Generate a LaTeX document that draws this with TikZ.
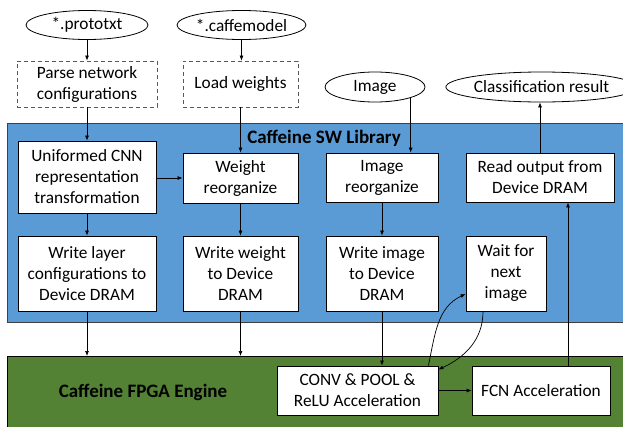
\documentclass[tikz,border=0pt]{standalone}
\usepackage{fontspec}
\setmainfont{Carlito}
\usetikzlibrary{arrows.meta,shapes.geometric}
\definecolor{swblue}{HTML}{5B9BD5}
\definecolor{fpgagreen}{HTML}{548235}
\begin{document}
\begin{tikzpicture}[x=1pt,y=-1pt,
  txt/.style={font=\fontsize{17.3}{21}\selectfont},
  box/.style={txt, draw=black, line width=0.8pt, fill=white, align=center, inner sep=0pt},
  dbox/.style={box, draw=black!65, dash pattern=on 4pt off 3pt},
  oval/.style={txt, ellipse, draw=black, line width=0.8pt, fill=white, inner sep=0pt},
  band/.style={inner sep=0pt, line width=0.8pt, anchor=north west},
  arr/.style={-{Latex[length=5pt,width=4pt]}, line width=0.7pt},
  lbl/.style={font=\bfseries\fontsize{19}{23}\selectfont}
]
\useasboundingbox (0,0) rectangle (623,426);
\begin{scope}
\clip (0,0) rectangle (623,426);
\node[band, draw=black!75, fill=swblue, minimum width=640pt, minimum height=199pt] (sw) at (7,123) {};
\node[band, draw=black, fill=fpgagreen, minimum width=640pt, minimum height=90pt] (fpga) at (7,356) {};
\end{scope}
\node[lbl] (swlbl) at (324,138) {Caffeine SW Library};
\node[lbl] (fpgalbl) at (143,392) {Caffeine FPGA Engine};

% ellipses
\node[oval, minimum width=122pt, minimum height=29pt] (proto) at (87,25) {*.prototxt};
\node[oval, minimum width=117pt, minimum height=29pt] (caffe) at (241.5,25) {*.caffemodel};
\node[oval, minimum width=100pt, minimum height=30pt] (img) at (375,87) {Image};
\node[oval, minimum width=151pt, minimum height=30pt] (cls) at (541.5,87) {Classification result};

% dashed boxes
\node[dbox, minimum width=140pt, minimum height=46pt] (parse) at (87,84) {Parse network\\configurations};
\node[dbox, minimum width=115pt, minimum height=46pt] (load) at (240.5,84) {Load weights};

% SW boxes
\node[box, minimum width=138pt, minimum height=72pt] (uni) at (87,177) {Uniformed CNN\\representation\\transformation};
\node[box, minimum width=115pt, minimum height=50pt] (wr) at (240.5,178) {Weight\\reorganize};
\node[box, minimum width=112pt, minimum height=49pt] (ir) at (382,177.5) {Image\\reorganize};
\node[box, minimum width=148pt, minimum height=49pt] (read) at (540,177.5) {Read output from\\Device DRAM};
\node[box, minimum width=138pt, minimum height=75pt] (wl) at (87,273.5) {Write layer\\configurations to\\Device DRAM};
\node[box, minimum width=115pt, minimum height=75pt] (ww) at (240.5,273.5) {Write weight\\to Device\\DRAM};
\node[box, minimum width=112pt, minimum height=75pt] (wi) at (382,273.5) {Write image\\to Device\\DRAM};
\node[box, minimum width=80pt, minimum height=75pt] (wait) at (506,273.5) {Wait for\\next\\image};

% FPGA boxes
\node[box, minimum width=161pt, minimum height=49pt] (conv) at (357.5,390.5) {CONV \& POOL \&\\ReLU Acceleration};
\node[box, minimum width=138pt, minimum height=49pt] (fcn) at (541,390.5) {FCN Acceleration};

% arrows
\draw[arr] (proto) -- (parse);
\draw[arr] (parse) -- (uni);
\draw[arr] (caffe.south) -- (caffe.south |- load.north);
\draw[arr] (load) -- (wr);
\draw[arr] (uni.east |- wr) -- (wr.west);
\draw[arr] (img.-17) -- (img.-17 |- ir.north);
\draw[arr] (read.north) -- (read.north |- cls.south);
\draw[arr] (uni) -- (wl);
\draw[arr] (wr) -- (ww);
\draw[arr] (ir) -- (wi);
\draw[arr] (wl.south) -- (wl.south |- fpga.north);
\draw[arr] (ww.south) -- (ww.south |- fpga.north);
\draw[arr] (wi.south) -- (wi.south |- conv.north);
\draw[arr] (conv.east |- fcn) -- (fcn.west);
\draw[arr] ([xshift=27pt]fcn.north) -- ([xshift=27pt]fcn.north |- read.south);
\draw[arr] ([xshift=-10pt]conv.north east) to[out=78,in=205] ([yshift=-20.5pt]wait.west);
\draw[arr] ([xshift=-23pt]wait.south) to[out=-90,in=25] ([yshift=-4pt]conv.north east);
\end{tikzpicture}
\end{document}
